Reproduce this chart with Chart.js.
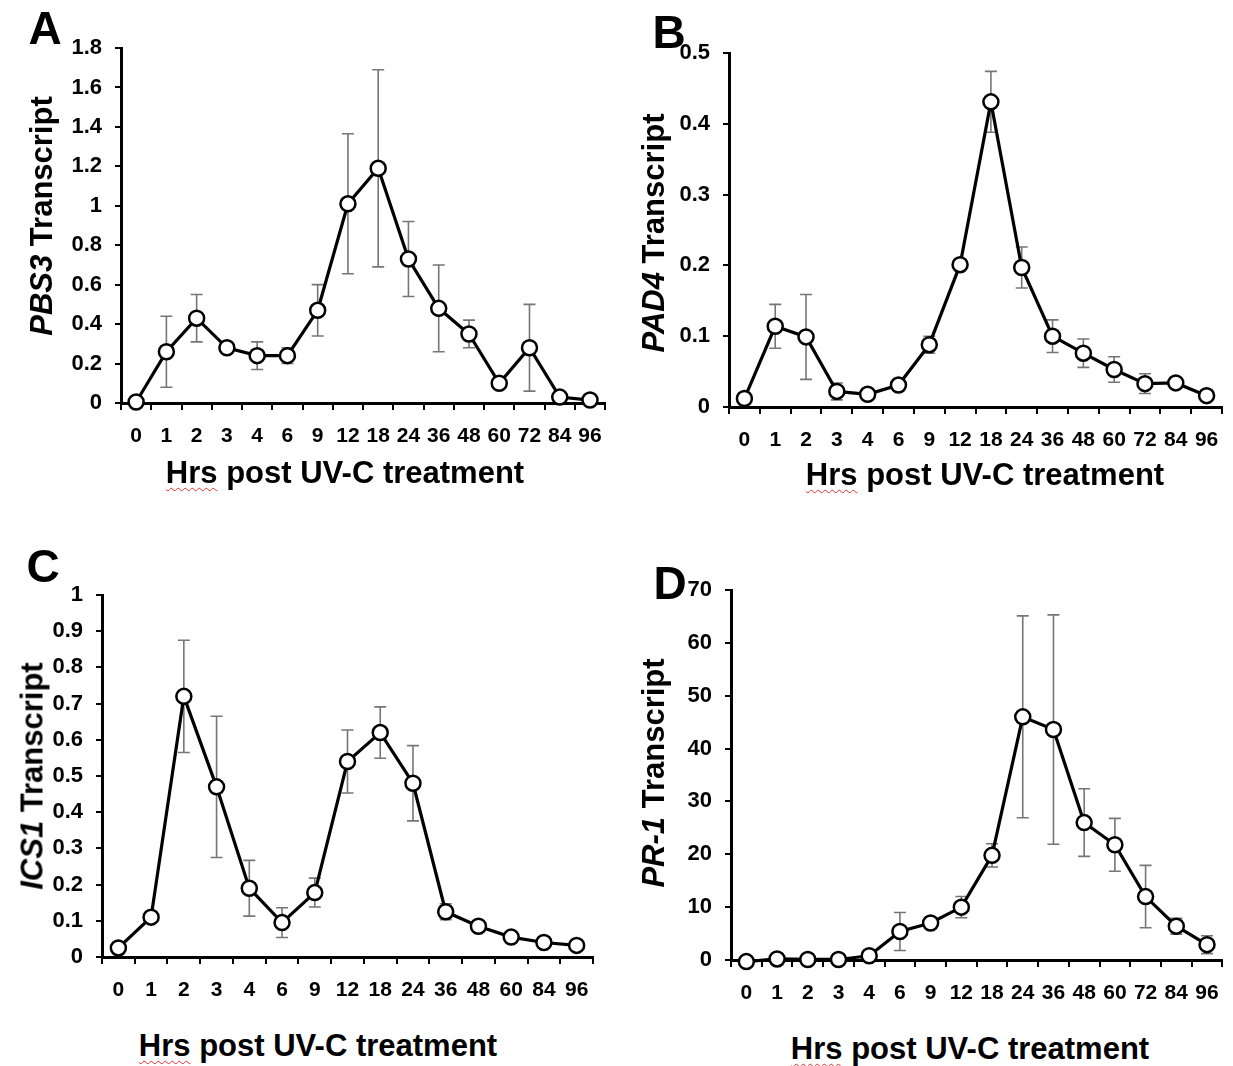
<!DOCTYPE html>
<html lang="en">
<head>
  <meta charset="UTF-8" />
  <title>UV-C time course</title>
  <script src="https://cdn.jsdelivr.net/npm/chart.js"></script>
  <style>
    html, body { margin: 0; padding: 0; background: #fff; }
    body { width: 1233px; height: 1066px; position: relative; overflow: hidden;
           font-family: 'Liberation Sans', Arial, sans-serif; font-weight: bold; color: #000; }
    canvas { position: absolute; }
    .lbl { position: absolute; white-space: nowrap; transform: translate(-50%, -50%); line-height: 1; }
    .letter { font-size: 46px; }
    .xt { font-size: 31px; }
    .yt { font-size: 31px; transform: translate(-50%, -50%) rotate(-90deg); }
    .spell { text-decoration: underline wavy #e03030; text-decoration-thickness: 1px; text-underline-offset: 4px; }
  </style>
</head>
<body>

  <canvas id="chartA"></canvas>
  <canvas id="chartB"></canvas>
  <canvas id="chartC"></canvas>
  <canvas id="chartD"></canvas>

  <div class="lbl letter" style="left:45px; top:28px;">A</div>
  <div class="lbl letter" style="left:669px; top:32px;">B</div>
  <div class="lbl letter" style="left:43px; top:566px;">C</div>
  <div class="lbl letter" style="left:670px; top:583px;">D</div>

  <div class="lbl yt" style="left:41px; top:216px;"><i>PBS3</i> Transcript</div>
  <div class="lbl yt" style="left:653px; top:233px;"><i>PAD4</i> Transcript</div>
  <div class="lbl yt" style="left:32px; top:776px;"><i>ICS1</i> Transcript</div>
  <div class="lbl yt" style="left:653px; top:773px;"><i>PR-1</i> Transcript</div>

  <div class="lbl xt" style="left:345px; top:472px;"><span class="spell">Hrs</span> post UV-C treatment</div>
  <div class="lbl xt" style="left:985px; top:474px;"><span class="spell">Hrs</span> post UV-C treatment</div>
  <div class="lbl xt" style="left:318px; top:1045px;"><span class="spell">Hrs</span> post UV-C treatment</div>
  <div class="lbl xt" style="left:970px; top:1048px;"><span class="spell">Hrs</span> post UV-C treatment</div>

  <script>
    // hours after treatment (ICS1 has no 72 h sample)
    const hours = ['0', '1', '2', '3', '4', '6', '9', '12', '18', '24', '36', '48', '60', '72', '84', '96'];
    const hoursIcs1 = ['0', '1', '2', '3', '4', '6', '9', '12', '18', '24', '36', '48', '60', '84', '96'];

    const pbs3 = [0.005, 0.26, 0.43, 0.28, 0.24, 0.24, 0.47, 1.01, 1.19, 0.73, 0.48, 0.35, 0.10, 0.28, 0.03, 0.015];
    const pbs3Err = [0, 0.18, 0.12, 0.01, 0.07, 0.04, 0.13, 0.355, 0.50, 0.19, 0.22, 0.07, 0.01, 0.22, 0.01, 0.01];

    const pad4 = [0.012, 0.114, 0.099, 0.022, 0.018, 0.031, 0.088, 0.201, 0.431, 0.197, 0.100, 0.076, 0.053, 0.033, 0.034, 0.016];
    const pad4Err = [0.002, 0.031, 0.060, 0.012, 0.003, 0.004, 0.012, 0.004, 0.043, 0.029, 0.023, 0.020, 0.018, 0.014, 0.003, 0.003];

    const ics1 = [0.025, 0.11, 0.72, 0.47, 0.19, 0.095, 0.178, 0.54, 0.62, 0.48, 0.125, 0.085, 0.055, 0.04, 0.032];
    const ics1Err = [0.003, 0.01, 0.155, 0.195, 0.077, 0.041, 0.04, 0.087, 0.071, 0.104, 0.022, 0.005, 0.005, 0.005, 0.005];

    const pr1 = [-0.3, 0.2, 0.1, 0.1, 0.8, 5.4, 7.0, 10.0, 19.8, 46.0, 43.6, 26.0, 21.8, 12.0, 6.4, 2.9];
    const pr1Err = [0.1, 0.1, 0.1, 0.1, 0.3, 3.6, 0.9, 2.0, 2.2, 19.1, 21.7, 6.4, 5.0, 5.9, 1.5, 1.7];

    const FONT = "'Liberation Sans', Arial, sans-serif";

    // gray whiskers, drawn under the line so the white markers cover them
    const errorBars = {
      id: 'errorBars',
      beforeDatasetsDraw(chart) {
        const errs = chart.options.plugins.errorBars.values;
        const meta = chart.getDatasetMeta(0);
        const y = chart.scales.y;
        const vals = chart.data.datasets[0].data;
        const c = chart.ctx;
        c.save();
        c.strokeStyle = '#767676';
        c.lineWidth = 1.6;
        meta.data.forEach((pt, i) => {
          if (!errs[i]) return;
          const top = y.getPixelForValue(vals[i] + errs[i]);
          const bot = y.getPixelForValue(vals[i] - errs[i]);
          c.beginPath();
          c.moveTo(pt.x, top); c.lineTo(pt.x, bot);
          c.moveTo(pt.x - 6, top); c.lineTo(pt.x + 6, top);
          c.moveTo(pt.x - 6, bot); c.lineTo(pt.x + 6, bot);
          c.stroke();
        });
        c.restore();
      }
    };

    function makePanel(id, box, area, labels, values, errs, yMax, step) {
      const canvas = document.getElementById(id);
      canvas.width = box.w;
      canvas.height = box.h;
      canvas.style.left = box.x + 'px';
      canvas.style.top = box.y + 'px';

      return new Chart(canvas.getContext('2d'), {
        type: 'line',
        data: {
          labels: labels,
          datasets: [{
            data: values,
            borderColor: '#000',
            borderWidth: 3.2,
            pointRadius: 7.5,
            pointBorderWidth: 2.5,
            pointBackgroundColor: '#fff',
            pointBorderColor: '#000',
            tension: 0,
            clip: false
          }]
        },
        options: {
          responsive: false,
          animation: false,
          devicePixelRatio: 1,
          layout: {
            padding: { left: 0, top: area.t - box.y, right: box.x + box.w - area.r, bottom: 0 }
          },
          plugins: {
            legend: { display: false },
            tooltip: { enabled: false },
            errorBars: { values: errs }
          },
          scales: {
            x: {
              type: 'category',
              offset: true,
              grid: { display: true, drawOnChartArea: false, offset: true, color: '#000', lineWidth: 2, tickLength: 7 },
              border: { display: true, color: '#000', width: 3 },
              ticks: { color: '#000', font: { family: FONT, size: 21, weight: 'bold' }, autoSkip: false, maxRotation: 0, padding: 14 },
              afterFit: s => { s.height = box.y + box.h - area.b; }
            },
            y: {
              min: 0,
              max: yMax,
              grid: { display: true, drawOnChartArea: false, color: '#000', lineWidth: 2, tickLength: 6 },
              border: { display: true, color: '#000', width: 3 },
              ticks: {
                stepSize: step,
                color: '#000',
                padding: 13,
                font: { family: FONT, size: 22, weight: 'bold' },
                callback: v => String(Number(v.toFixed(2)))
              },
              afterFit: s => { s.width = area.l - box.x; }
            }
          }
        },
        plugins: [errorBars]
      });
    }

    makePanel('chartA', { x: 0, y: 0, w: 616, h: 460 }, { l: 121, t: 48, r: 606, b: 403 }, hours, pbs3, pbs3Err, 1.8, 0.2);
    makePanel('chartB', { x: 616, y: 0, w: 617, h: 460 }, { l: 729, t: 53, r: 1222, b: 407 }, hours, pad4, pad4Err, 0.5, 0.1);
    makePanel('chartC', { x: 0, y: 540, w: 616, h: 480 }, { l: 102, t: 595, r: 593, b: 957 }, hoursIcs1, ics1, ics1Err, 1, 0.1);
    makePanel('chartD', { x: 616, y: 540, w: 617, h: 480 }, { l: 731, t: 590, r: 1227, b: 960 }, hours, pr1, pr1Err, 70, 10);
  </script>

</body>
</html>
